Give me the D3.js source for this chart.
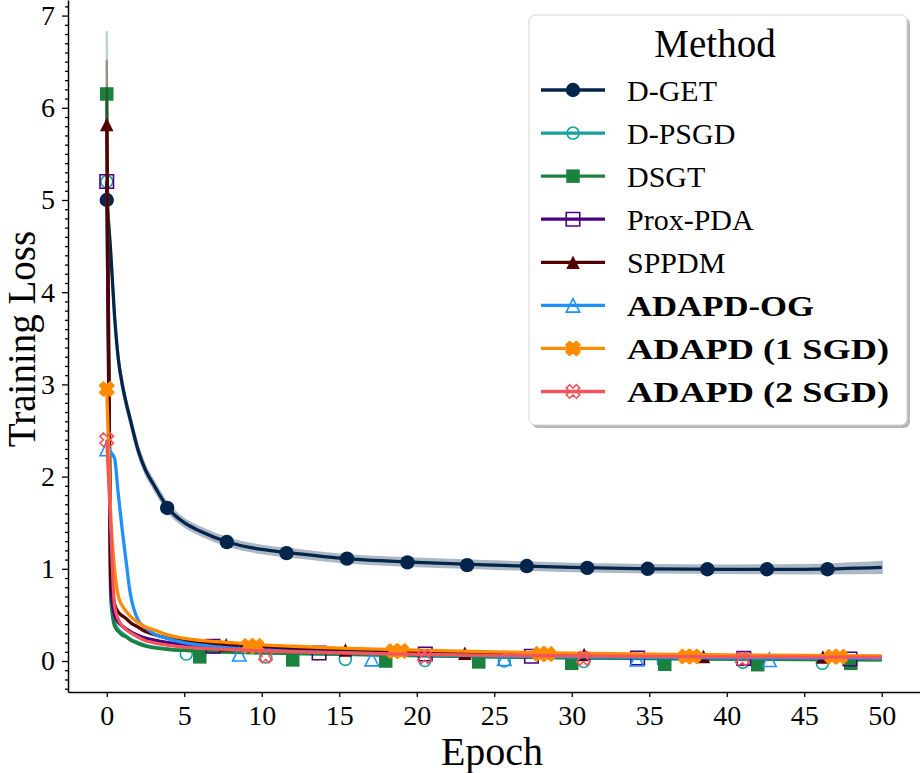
<!DOCTYPE html>
<html>
<head>
<meta charset="utf-8">
<script src="https://cdn.jsdelivr.net/npm/d3@7"></script>
<style>
body { margin: 0; background: #fff; }
svg { display: block; font-family: "Liberation Serif", "DejaVu Serif", serif; }
</style>
</head>
<body>
<div id="chart"></div>
<script>
// epochs at which every curve was read
var grid = [0, 0.25, 0.5, 0.75, 1, 1.25, 1.5, 2, 2.5, 3, 4, 5, 6, 8, 10, 12, 15, 20, 25, 30, 35, 40, 45, 50];

// mean training loss per method (same length as grid)
var dgetLoss = [5.0, 4.45, 3.75, 3.27, 3.0, 2.8, 2.63, 2.3, 2.07, 1.92, 1.65, 1.5, 1.41, 1.28, 1.21, 1.17, 1.115, 1.07, 1.04, 1.015, 1.0, 0.995, 0.995, 1.015];
var dpsgdLoss = [5.2, 0.75, 0.42, 0.34, 0.3, 0.27, 0.24, 0.2, 0.17, 0.15, 0.13, 0.115, 0.105, 0.095, 0.087, 0.08, 0.072, 0.058, 0.045, 0.035, 0.028, 0.022, 0.018, 0.015];
var dsgtLoss = [6.15, 0.7, 0.38, 0.32, 0.28, 0.26, 0.23, 0.19, 0.16, 0.145, 0.125, 0.115, 0.108, 0.098, 0.09, 0.083, 0.075, 0.06, 0.045, 0.035, 0.027, 0.02, 0.015, 0.012];
var proxLoss = [5.2, 0.8, 0.5, 0.42, 0.38, 0.35, 0.32, 0.28, 0.25, 0.23, 0.2, 0.18, 0.165, 0.15, 0.135, 0.125, 0.112, 0.09, 0.075, 0.06, 0.05, 0.043, 0.037, 0.033];
var sppdmLoss = [5.82, 0.95, 0.62, 0.53, 0.49, 0.46, 0.42, 0.37, 0.32, 0.29, 0.245, 0.22, 0.2, 0.18, 0.16, 0.145, 0.125, 0.1, 0.085, 0.07, 0.06, 0.053, 0.048, 0.045];
var ogLoss = [2.3, 2.26, 2.2, 1.8, 1.42, 1.08, 0.75, 0.45, 0.36, 0.3, 0.24, 0.2, 0.175, 0.14, 0.12, 0.105, 0.09, 0.07, 0.055, 0.045, 0.04, 0.035, 0.032, 0.03];
var sgd1Loss = [2.95, 1.6, 1.0, 0.7, 0.6, 0.54, 0.49, 0.42, 0.37, 0.34, 0.28, 0.245, 0.225, 0.2, 0.175, 0.16, 0.14, 0.118, 0.1, 0.085, 0.075, 0.067, 0.06, 0.055];
var sgd2Loss = [2.4, 1.5, 0.6, 0.45, 0.38, 0.34, 0.31, 0.26, 0.22, 0.2, 0.17, 0.15, 0.14, 0.125, 0.11, 0.1, 0.088, 0.072, 0.062, 0.055, 0.05, 0.046, 0.043, 0.04];

// half width of the shaded bands
var dgetSpread = [0.04, 0.04, 0.04, 0.04, 0.04, 0.04, 0.04, 0.04, 0.04, 0.04, 0.04, 0.04, 0.04, 0.04, 0.04, 0.04, 0.04, 0.04, 0.04, 0.04, 0.04, 0.04, 0.045, 0.06];
var dsgtSpread = [0.68, 0.01, 0, 0, 0, 0, 0, 0, 0, 0, 0, 0, 0, 0, 0, 0, 0, 0, 0, 0, 0, 0, 0, 0];
var sppdmSpread = [0.7, 0.01, 0, 0, 0, 0, 0, 0, 0, 0, 0, 0, 0, 0, 0, 0, 0, 0, 0, 0, 0, 0, 0, 0];

// marker points
var dgetMarkEpoch = [0, 3.9, 7.75, 11.6, 15.5, 19.4, 23.25, 27.1, 31, 34.9, 38.75, 42.6, 46.5];
var dgetMarkLoss = [5.0, 1.66, 1.29, 1.17, 1.11, 1.07, 1.04, 1.03, 1.01, 1.0, 0.995, 0.995, 0.995];
var dpsgdMarkEpoch = [0, 5.13, 10.26, 15.39, 20.52, 25.65, 30.78, 35.91, 41.04, 46.17];
var dpsgdMarkLoss = [5.2, 0.076, 0.045, 0.018, 0.005, 0.0, -0.005, -0.01, -0.012, -0.025];
var dsgtMarkEpoch = [0, 6, 12, 18, 24, 30, 36, 42, 48];
var dsgtMarkLoss = [6.15, 0.045, 0.012, 0.0, -0.01, -0.025, -0.035, -0.04, -0.025];
var proxMarkEpoch = [0, 6.85, 13.7, 20.55, 27.4, 34.25, 41.1, 47.95];
var proxMarkLoss = [5.2, 0.16, 0.087, 0.076, 0.052, 0.033, 0.029, 0.022];
var sppdmMarkEpoch = [0, 7.7, 15.4, 23.1, 30.8, 38.5, 46.2];
var sppdmMarkLoss = [5.82, 0.177, 0.12, 0.083, 0.07, 0.05, 0.043];
var ogMarkEpoch = [0, 8.55, 17.1, 25.65, 34.2, 42.75];
var ogMarkLoss = [2.3, 0.073, 0.02, 0.025, 0.02, 0.014];
var sgd1MarkEpoch = [0, 9.15, 9.65, 18.5, 19.0, 27.95, 28.45, 37.35, 37.85, 46.8, 47.3];
var sgd1MarkLoss = [2.95, 0.163, 0.163, 0.108, 0.108, 0.076, 0.076, 0.05, 0.05, 0.047, 0.047];
var sgd2MarkEpoch = [0, 10.25, 20.5, 30.75, 41.0];
var sgd2MarkLoss = [2.4, 0.054, 0.047, 0.029, 0.022];

var methods = ["D-GET", "D-PSGD", "DSGT", "Prox-PDA", "SPPDM", "ADAPD-OG", "ADAPD (1 SGD)", "ADAPD (2 SGD)"];
var colors = ["#03254c", "#17a0a0", "#1b813e", "#4b0082", "#550000", "#1e90ff", "#ff8c00", "#f4545c"];
var shapes = ["circle", "circleOpen", "square", "squareOpen", "triangle", "triangleOpen", "x", "xOpen"];

var xTicks = [0, 5, 10, 15, 20, 25, 30, 35, 40, 45, 50];
var yTicks = [0, 1, 2, 3, 4, 5, 6, 7];

var series = [
    {loss: dgetLoss, spread: dgetSpread, mx: dgetMarkEpoch, my: dgetMarkLoss},
    {loss: dpsgdLoss, spread: null, mx: dpsgdMarkEpoch, my: dpsgdMarkLoss},
    {loss: dsgtLoss, spread: dsgtSpread, mx: dsgtMarkEpoch, my: dsgtMarkLoss},
    {loss: proxLoss, spread: null, mx: proxMarkEpoch, my: proxMarkLoss},
    {loss: sppdmLoss, spread: sppdmSpread, mx: sppdmMarkEpoch, my: sppdmMarkLoss},
    {loss: ogLoss, spread: null, mx: ogMarkEpoch, my: ogMarkLoss},
    {loss: sgd1Loss, spread: null, mx: sgd1MarkEpoch, my: sgd1MarkLoss},
    {loss: sgd2Loss, spread: null, mx: sgd2MarkEpoch, my: sgd2MarkLoss}
];

var svgWidth = 920;
var svgHeight = 773;

var svg = d3.select("#chart")
    .append("svg")
    .attr("width", svgWidth)
    .attr("height", svgHeight);

var xScale = d3.scaleLinear().domain([-2.5, 52.5]).range([68, 920.5]);
var yScale = d3.scaleLinear().domain([-0.336, 7.169]).range([692, 0]);

// marker path in local coordinates, size in px
function markerPath(shape, s) {
    var h = s / 2;
    if (shape.indexOf("square") === 0) {
        return `M${-h},${-h}H${h}V${h}H${-h}Z`;
    }
    if (shape.indexOf("triangle") === 0) {
        return `M0,${-h}L${h},${h}L${-h},${h}Z`;
    }
    // filled x, matplotlib style
    var pts = [[-1, -2], [0, -1], [1, -2], [2, -1], [1, 0], [2, 1], [1, 2], [0, 1], [-1, 2], [-2, 1], [-1, 0], [-2, -1]];
    return "M" + pts.map(p => [p[0] * s / 4, p[1] * s / 4].join(",")).join("L") + "Z";
}

function drawMarker(g, shape, color, x, y) {
    var open = shape.indexOf("Open") > 0;
    var el;
    if (shape.indexOf("circle") === 0) {
        el = g.append("circle")
            .attr("cx", x).attr("cy", y)
            .attr("r", open ? 6 : 7.2);
    } else {
        el = g.append("path")
            .attr("d", markerPath(shape, 13.5))
            .attr("transform", `translate(${x},${y})`);
    }
    if (open) {
        el.attr("fill", "none").attr("stroke", color).attr("stroke-width", 1.6);
    } else {
        el.attr("fill", color);
        // thicken the filled x so it reads as a blob like the reference
        if (shape === "x") el.attr("stroke", color).attr("stroke-width", 2.2).attr("stroke-linejoin", "round");
    }
}

var plot = svg.append("g");

var line = d3.line()
    .x((d, i) => xScale(grid[i]))
    .y(d => yScale(d))
    .curve(d3.curveMonotoneX);

series.forEach(function(s, k) {
    var g = plot.append("g");
    // shaded band
    if (s.spread) {
        var area = d3.area()
            .x((d, i) => xScale(grid[i]))
            .y0((d, i) => yScale(d - s.spread[i]))
            .y1((d, i) => yScale(d + s.spread[i]))
            .curve(d3.curveMonotoneX);
        g.append("g")
            .attr("opacity", 0.32)
            .append("path")
            .attr("d", area(s.loss))
            .attr("fill", colors[k])
            .attr("stroke", colors[k])
            .attr("stroke-width", 2.2);
    }
    g.append("path")
        .attr("d", line(s.loss))
        .attr("fill", "none")
        .attr("stroke", colors[k])
        .attr("stroke-width", 3.3)
        .attr("stroke-linejoin", "round");
    s.mx.forEach(function(e, j) {
        drawMarker(g, shapes[k], colors[k], xScale(e), yScale(s.my[j]));
    });
});

// axes
var minorTicks = d3.range(-3, 72).map(v => v / 10).filter(v => v % 1 !== 0 && v > -0.336);

svg.append("g")
    .attr("transform", "translate(0,692)")
    .call(d3.axisBottom(xScale).tickValues(xTicks).tickSize(5).tickSizeOuter(0).tickPadding(8).tickFormat(d3.format("d")));

svg.append("g")
    .attr("transform", "translate(68,0)")
    .call(d3.axisLeft(yScale).tickValues(yTicks).tickSize(6).tickSizeOuter(0).tickPadding(7).tickFormat(d3.format("d")));

svg.append("g")
    .attr("transform", "translate(68,0)")
    .call(d3.axisLeft(yScale).tickValues(minorTicks).tickSize(3).tickSizeOuter(0).tickFormat(""))
    .select(".domain").remove();

svg.selectAll(".tick line").attr("stroke", "#000").attr("stroke-width", 1.3);
svg.selectAll(".domain").attr("stroke", "#000").attr("stroke-width", 1.5);
svg.selectAll(".tick text")
    .attr("font-family", "Liberation Serif, serif")
    .attr("font-size", 28)
    .attr("fill", "#000");

// axis titles
svg.append("text")
    .attr("x", 492)
    .attr("y", 765)
    .attr("text-anchor", "middle")
    .attr("font-size", 40)
    .text("Epoch");

svg.append("text")
    .attr("transform", "translate(35,339) rotate(-90)")
    .attr("text-anchor", "middle")
    .attr("font-size", 39)
    .text("Training Loss");

// legend
var legend = svg.append("g");
legend.append("rect")
    .attr("x", 532).attr("y", 18)
    .attr("width", 378).attr("height", 410)
    .attr("rx", 6)
    .attr("fill", "#9a9a9a")
    .attr("opacity", 0.7);
legend.append("rect")
    .attr("x", 529).attr("y", 15)
    .attr("width", 378).attr("height", 410)
    .attr("rx", 6)
    .attr("fill", "#fff")
    .attr("stroke", "#d4d4d4")
    .attr("stroke-width", 1);

legend.append("text")
    .attr("x", 715)
    .attr("y", 57)
    .attr("text-anchor", "middle")
    .attr("font-size", 39)
    .text("Method");

var boldWidth = {"ADAPD-OG": 187, "ADAPD (1 SGD)": 262, "ADAPD (2 SGD)": 262};

methods.forEach(function(name, k) {
    var cy = 90 + k * 43.07;
    legend.append("line")
        .attr("x1", 541).attr("x2", 605)
        .attr("y1", cy).attr("y2", cy)
        .attr("stroke", colors[k])
        .attr("stroke-width", 3.3);
    drawMarker(legend, shapes[k], colors[k], 573, cy);
    var t = legend.append("text")
        .attr("x", 627)
        .attr("y", cy + 10.5)
        .attr("font-size", 30)
        .text(name);
    if (boldWidth[name]) {
        t.attr("font-weight", "bold")
            .attr("textLength", boldWidth[name])
            .attr("lengthAdjust", "spacingAndGlyphs");
    }
});
</script>
</body>
</html>
